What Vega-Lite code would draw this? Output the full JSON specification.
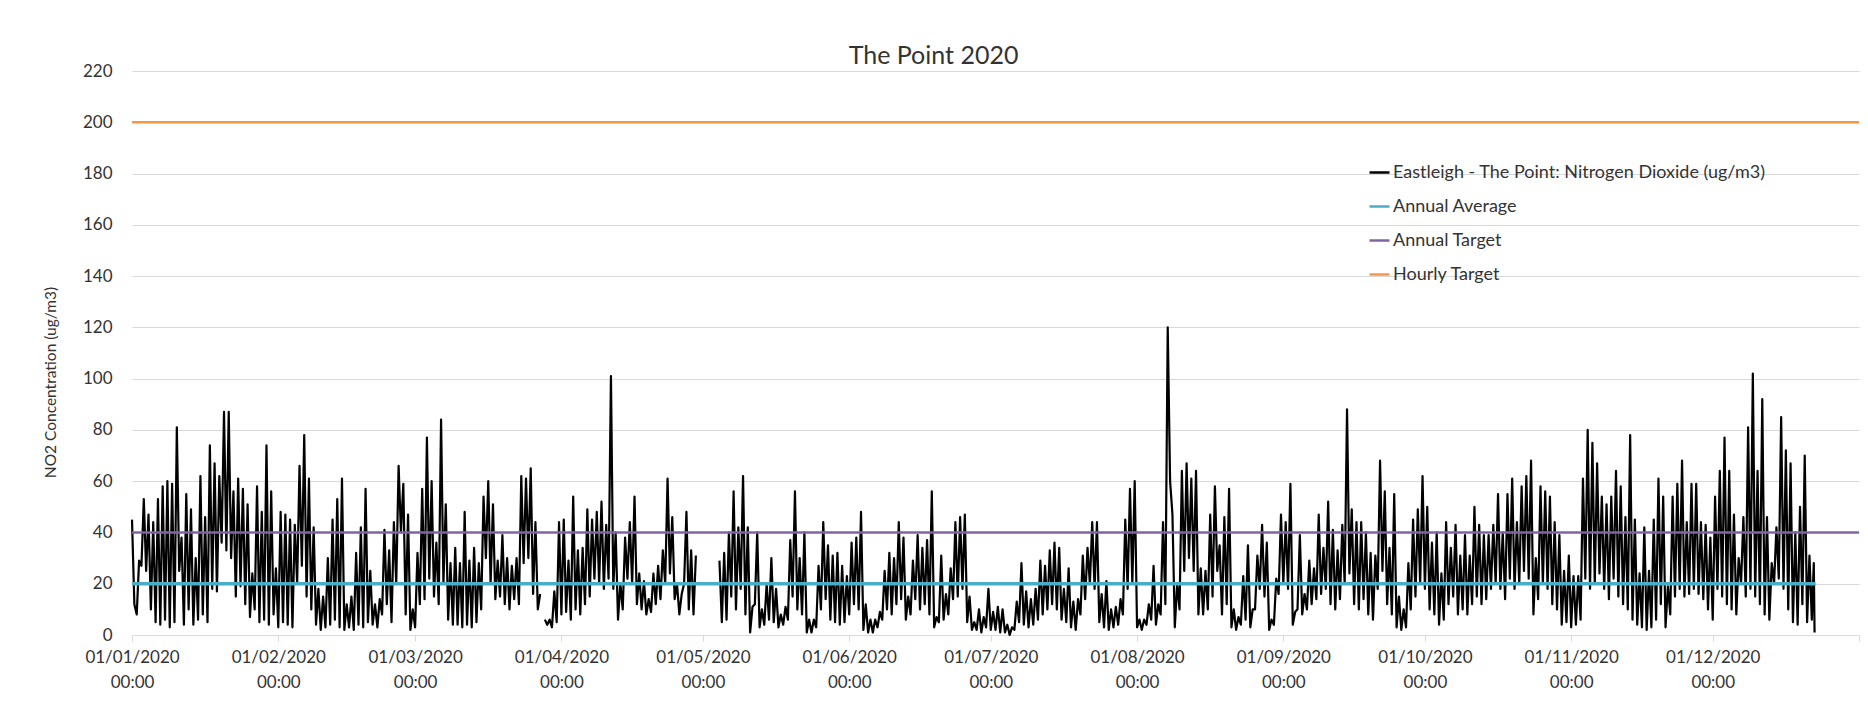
{
"$schema": "https://vega.github.io/schema/vega-lite/v6.json",
"width": 1727, "height": 564,
"autosize": {"type": "none"},
"padding": {"left": 132, "top": 71, "right": 9, "bottom": 92},
"background": "white",
"config": {"font": "Lato", "view": {"stroke": null}},
"title": {"text": "The Point 2020", "fontSize": 25, "fontWeight": "normal", "color": "#333333", "dx": -62, "offset": -7, "anchor": "middle"},
"datasets": {
"no2": [
{"t":"2020-01-01T00:00","v":45},{"t":"2020-01-01T12:00","v":12},
{"t":"2020-01-02T00:00","v":8},{"t":"2020-01-02T12:00","v":29},
{"t":"2020-01-03T00:00","v":27},{"t":"2020-01-03T12:00","v":53},
{"t":"2020-01-04T00:00","v":25},{"t":"2020-01-04T12:00","v":47},
{"t":"2020-01-05T00:00","v":10},{"t":"2020-01-05T12:00","v":44},
{"t":"2020-01-06T00:00","v":5},{"t":"2020-01-06T12:00","v":53},
{"t":"2020-01-07T00:00","v":4},{"t":"2020-01-07T12:00","v":58},
{"t":"2020-01-08T00:00","v":6},{"t":"2020-01-08T12:00","v":60},
{"t":"2020-01-09T00:00","v":3},{"t":"2020-01-09T12:00","v":59},
{"t":"2020-01-10T00:00","v":5},{"t":"2020-01-10T12:00","v":81},
{"t":"2020-01-11T00:00","v":25},{"t":"2020-01-11T12:00","v":38},
{"t":"2020-01-12T00:00","v":4},{"t":"2020-01-12T12:00","v":55},
{"t":"2020-01-13T00:00","v":10},{"t":"2020-01-13T12:00","v":49},
{"t":"2020-01-14T00:00","v":4},{"t":"2020-01-14T12:00","v":30},
{"t":"2020-01-15T00:00","v":6},{"t":"2020-01-15T12:00","v":62},
{"t":"2020-01-16T00:00","v":8},{"t":"2020-01-16T12:00","v":46},
{"t":"2020-01-17T00:00","v":5},{"t":"2020-01-17T12:00","v":74},
{"t":"2020-01-18T00:00","v":18},{"t":"2020-01-18T12:00","v":67},
{"t":"2020-01-19T00:00","v":17},{"t":"2020-01-19T12:00","v":62},
{"t":"2020-01-20T00:00","v":36},{"t":"2020-01-20T12:00","v":87},
{"t":"2020-01-21T00:00","v":33},{"t":"2020-01-21T12:00","v":87},
{"t":"2020-01-22T00:00","v":30},{"t":"2020-01-22T12:00","v":56},
{"t":"2020-01-23T00:00","v":15},{"t":"2020-01-23T12:00","v":61},
{"t":"2020-01-24T00:00","v":19},{"t":"2020-01-24T12:00","v":57},
{"t":"2020-01-25T00:00","v":12},{"t":"2020-01-25T12:00","v":51},
{"t":"2020-01-26T00:00","v":7},{"t":"2020-01-26T12:00","v":24},
{"t":"2020-01-27T00:00","v":10},{"t":"2020-01-27T12:00","v":58},
{"t":"2020-01-28T00:00","v":5},{"t":"2020-01-28T12:00","v":48},
{"t":"2020-01-29T00:00","v":6},{"t":"2020-01-29T12:00","v":74},
{"t":"2020-01-30T00:00","v":4},{"t":"2020-01-30T12:00","v":56},
{"t":"2020-01-31T00:00","v":8},{"t":"2020-01-31T12:00","v":26},
{"t":"2020-02-01T00:00","v":3},{"t":"2020-02-01T12:00","v":48},
{"t":"2020-02-02T00:00","v":5},{"t":"2020-02-02T12:00","v":47},
{"t":"2020-02-03T00:00","v":4},{"t":"2020-02-03T12:00","v":45},
{"t":"2020-02-04T00:00","v":3},{"t":"2020-02-04T12:00","v":43},
{"t":"2020-02-05T00:00","v":20},{"t":"2020-02-05T12:00","v":66},
{"t":"2020-02-06T00:00","v":27},{"t":"2020-02-06T12:00","v":78},
{"t":"2020-02-07T00:00","v":15},{"t":"2020-02-07T12:00","v":61},
{"t":"2020-02-08T00:00","v":10},{"t":"2020-02-08T12:00","v":42},
{"t":"2020-02-09T00:00","v":4},{"t":"2020-02-09T12:00","v":18},
{"t":"2020-02-10T00:00","v":2},{"t":"2020-02-10T12:00","v":15},
{"t":"2020-02-11T00:00","v":3},{"t":"2020-02-11T12:00","v":30},
{"t":"2020-02-12T00:00","v":4},{"t":"2020-02-12T12:00","v":45},
{"t":"2020-02-13T00:00","v":6},{"t":"2020-02-13T12:00","v":53},
{"t":"2020-02-14T00:00","v":3},{"t":"2020-02-14T12:00","v":61},
{"t":"2020-02-15T00:00","v":2},{"t":"2020-02-15T12:00","v":12},
{"t":"2020-02-16T00:00","v":3},{"t":"2020-02-16T12:00","v":15},
{"t":"2020-02-17T00:00","v":2},{"t":"2020-02-17T12:00","v":32},
{"t":"2020-02-18T00:00","v":4},{"t":"2020-02-18T12:00","v":42},
{"t":"2020-02-19T00:00","v":3},{"t":"2020-02-19T12:00","v":57},
{"t":"2020-02-20T00:00","v":5},{"t":"2020-02-20T12:00","v":25},
{"t":"2020-02-21T00:00","v":4},{"t":"2020-02-21T12:00","v":12},
{"t":"2020-02-22T00:00","v":3},{"t":"2020-02-22T12:00","v":14},
{"t":"2020-02-23T00:00","v":8},{"t":"2020-02-23T12:00","v":41},
{"t":"2020-02-24T00:00","v":12},{"t":"2020-02-24T12:00","v":33},
{"t":"2020-02-25T00:00","v":5},{"t":"2020-02-25T12:00","v":44},
{"t":"2020-02-26T00:00","v":20},{"t":"2020-02-26T12:00","v":66},
{"t":"2020-02-27T00:00","v":40},{"t":"2020-02-27T12:00","v":59},
{"t":"2020-02-28T00:00","v":8},{"t":"2020-02-28T12:00","v":47},
{"t":"2020-02-29T00:00","v":2},{"t":"2020-02-29T12:00","v":10},
{"t":"2020-03-01T00:00","v":3},{"t":"2020-03-01T12:00","v":32},
{"t":"2020-03-02T00:00","v":12},{"t":"2020-03-02T12:00","v":57},
{"t":"2020-03-03T00:00","v":14},{"t":"2020-03-03T12:00","v":77},
{"t":"2020-03-04T00:00","v":22},{"t":"2020-03-04T12:00","v":60},
{"t":"2020-03-05T00:00","v":15},{"t":"2020-03-05T12:00","v":36},
{"t":"2020-03-06T00:00","v":12},{"t":"2020-03-06T12:00","v":84},
{"t":"2020-03-07T00:00","v":20},{"t":"2020-03-07T12:00","v":51},
{"t":"2020-03-08T00:00","v":6},{"t":"2020-03-08T12:00","v":28},
{"t":"2020-03-09T00:00","v":4},{"t":"2020-03-09T12:00","v":34},
{"t":"2020-03-10T00:00","v":4},{"t":"2020-03-10T12:00","v":28},
{"t":"2020-03-11T00:00","v":3},{"t":"2020-03-11T12:00","v":48},
{"t":"2020-03-12T00:00","v":4},{"t":"2020-03-12T12:00","v":29},
{"t":"2020-03-13T00:00","v":3},{"t":"2020-03-13T12:00","v":34},
{"t":"2020-03-14T00:00","v":5},{"t":"2020-03-14T12:00","v":28},
{"t":"2020-03-15T00:00","v":10},{"t":"2020-03-15T12:00","v":54},
{"t":"2020-03-16T00:00","v":30},{"t":"2020-03-16T12:00","v":60},
{"t":"2020-03-17T00:00","v":20},{"t":"2020-03-17T12:00","v":51},
{"t":"2020-03-18T00:00","v":14},{"t":"2020-03-18T12:00","v":29},
{"t":"2020-03-19T00:00","v":15},{"t":"2020-03-19T12:00","v":39},
{"t":"2020-03-20T00:00","v":12},{"t":"2020-03-20T12:00","v":30},
{"t":"2020-03-21T00:00","v":10},{"t":"2020-03-21T12:00","v":27},
{"t":"2020-03-22T00:00","v":14},{"t":"2020-03-22T12:00","v":30},
{"t":"2020-03-23T00:00","v":12},{"t":"2020-03-23T12:00","v":62},
{"t":"2020-03-24T00:00","v":28},{"t":"2020-03-24T12:00","v":61},
{"t":"2020-03-25T00:00","v":30},{"t":"2020-03-25T12:00","v":65},
{"t":"2020-03-26T00:00","v":16},{"t":"2020-03-26T12:00","v":44},
{"t":"2020-03-27T00:00","v":10},{"t":"2020-03-27T12:00","v":16},
{"t":"2020-03-28T00:00","v":null},{"t":"2020-03-28T12:00","v":6},
{"t":"2020-03-29T00:00","v":4},{"t":"2020-03-29T12:00","v":6},
{"t":"2020-03-30T00:00","v":3},{"t":"2020-03-30T12:00","v":17},
{"t":"2020-03-31T00:00","v":5},{"t":"2020-03-31T12:00","v":44},
{"t":"2020-04-01T00:00","v":8},{"t":"2020-04-01T12:00","v":45},
{"t":"2020-04-02T00:00","v":9},{"t":"2020-04-02T12:00","v":29},
{"t":"2020-04-03T00:00","v":6},{"t":"2020-04-03T12:00","v":54},
{"t":"2020-04-04T00:00","v":10},{"t":"2020-04-04T12:00","v":33},
{"t":"2020-04-05T00:00","v":8},{"t":"2020-04-05T12:00","v":34},
{"t":"2020-04-06T00:00","v":12},{"t":"2020-04-06T12:00","v":49},
{"t":"2020-04-07T00:00","v":15},{"t":"2020-04-07T12:00","v":45},
{"t":"2020-04-08T00:00","v":22},{"t":"2020-04-08T12:00","v":48},
{"t":"2020-04-09T00:00","v":20},{"t":"2020-04-09T12:00","v":52},
{"t":"2020-04-10T00:00","v":18},{"t":"2020-04-10T12:00","v":43},
{"t":"2020-04-11T00:00","v":22},{"t":"2020-04-11T12:00","v":101},
{"t":"2020-04-12T00:00","v":18},{"t":"2020-04-12T12:00","v":40},
{"t":"2020-04-13T00:00","v":6},{"t":"2020-04-13T12:00","v":20},
{"t":"2020-04-14T00:00","v":10},{"t":"2020-04-14T12:00","v":38},
{"t":"2020-04-15T00:00","v":22},{"t":"2020-04-15T12:00","v":44},
{"t":"2020-04-16T00:00","v":20},{"t":"2020-04-16T12:00","v":54},
{"t":"2020-04-17T00:00","v":12},{"t":"2020-04-17T12:00","v":24},
{"t":"2020-04-18T00:00","v":10},{"t":"2020-04-18T12:00","v":21},
{"t":"2020-04-19T00:00","v":8},{"t":"2020-04-19T12:00","v":14},
{"t":"2020-04-20T00:00","v":9},{"t":"2020-04-20T12:00","v":24},
{"t":"2020-04-21T00:00","v":12},{"t":"2020-04-21T12:00","v":27},
{"t":"2020-04-22T00:00","v":14},{"t":"2020-04-22T12:00","v":33},
{"t":"2020-04-23T00:00","v":20},{"t":"2020-04-23T12:00","v":61},
{"t":"2020-04-24T00:00","v":24},{"t":"2020-04-24T12:00","v":46},
{"t":"2020-04-25T00:00","v":14},{"t":"2020-04-25T12:00","v":20},
{"t":"2020-04-26T00:00","v":8},{"t":"2020-04-26T12:00","v":16},
{"t":"2020-04-27T00:00","v":20},{"t":"2020-04-27T12:00","v":48},
{"t":"2020-04-28T00:00","v":10},{"t":"2020-04-28T12:00","v":33},
{"t":"2020-04-29T00:00","v":8},{"t":"2020-04-29T12:00","v":31},
{"t":"2020-04-30T00:00","v":null},{"t":"2020-04-30T12:00","v":null},
{"t":"2020-05-01T00:00","v":null},{"t":"2020-05-01T12:00","v":null},
{"t":"2020-05-02T00:00","v":null},{"t":"2020-05-02T12:00","v":null},
{"t":"2020-05-03T00:00","v":null},{"t":"2020-05-03T12:00","v":null},
{"t":"2020-05-04T00:00","v":null},{"t":"2020-05-04T12:00","v":29},
{"t":"2020-05-05T00:00","v":5},{"t":"2020-05-05T12:00","v":32},
{"t":"2020-05-06T00:00","v":6},{"t":"2020-05-06T12:00","v":40},
{"t":"2020-05-07T00:00","v":15},{"t":"2020-05-07T12:00","v":56},
{"t":"2020-05-08T00:00","v":10},{"t":"2020-05-08T12:00","v":42},
{"t":"2020-05-09T00:00","v":18},{"t":"2020-05-09T12:00","v":62},
{"t":"2020-05-10T00:00","v":8},{"t":"2020-05-10T12:00","v":42},
{"t":"2020-05-11T00:00","v":1},{"t":"2020-05-11T12:00","v":11},
{"t":"2020-05-12T00:00","v":12},{"t":"2020-05-12T12:00","v":40},
{"t":"2020-05-13T00:00","v":3},{"t":"2020-05-13T12:00","v":10},
{"t":"2020-05-14T00:00","v":4},{"t":"2020-05-14T12:00","v":20},
{"t":"2020-05-15T00:00","v":6},{"t":"2020-05-15T12:00","v":30},
{"t":"2020-05-16T00:00","v":5},{"t":"2020-05-16T12:00","v":18},
{"t":"2020-05-17T00:00","v":3},{"t":"2020-05-17T12:00","v":8},
{"t":"2020-05-18T00:00","v":4},{"t":"2020-05-18T12:00","v":11},
{"t":"2020-05-19T00:00","v":6},{"t":"2020-05-19T12:00","v":37},
{"t":"2020-05-20T00:00","v":15},{"t":"2020-05-20T12:00","v":56},
{"t":"2020-05-21T00:00","v":10},{"t":"2020-05-21T12:00","v":30},
{"t":"2020-05-22T00:00","v":8},{"t":"2020-05-22T12:00","v":40},
{"t":"2020-05-23T00:00","v":1},{"t":"2020-05-23T12:00","v":6},
{"t":"2020-05-24T00:00","v":1},{"t":"2020-05-24T12:00","v":6},
{"t":"2020-05-25T00:00","v":3},{"t":"2020-05-25T12:00","v":27},
{"t":"2020-05-26T00:00","v":10},{"t":"2020-05-26T12:00","v":44},
{"t":"2020-05-27T00:00","v":14},{"t":"2020-05-27T12:00","v":35},
{"t":"2020-05-28T00:00","v":6},{"t":"2020-05-28T12:00","v":31},
{"t":"2020-05-29T00:00","v":5},{"t":"2020-05-29T12:00","v":32},
{"t":"2020-05-30T00:00","v":4},{"t":"2020-05-30T12:00","v":27},
{"t":"2020-05-31T00:00","v":5},{"t":"2020-05-31T12:00","v":23},
{"t":"2020-06-01T00:00","v":8},{"t":"2020-06-01T12:00","v":36},
{"t":"2020-06-02T00:00","v":12},{"t":"2020-06-02T12:00","v":38},
{"t":"2020-06-03T00:00","v":10},{"t":"2020-06-03T12:00","v":48},
{"t":"2020-06-04T00:00","v":2},{"t":"2020-06-04T12:00","v":12},
{"t":"2020-06-05T00:00","v":1},{"t":"2020-06-05T12:00","v":6},
{"t":"2020-06-06T00:00","v":1},{"t":"2020-06-06T12:00","v":6},
{"t":"2020-06-07T00:00","v":3},{"t":"2020-06-07T12:00","v":9},
{"t":"2020-06-08T00:00","v":6},{"t":"2020-06-08T12:00","v":25},
{"t":"2020-06-09T00:00","v":10},{"t":"2020-06-09T12:00","v":32},
{"t":"2020-06-10T00:00","v":8},{"t":"2020-06-10T12:00","v":30},
{"t":"2020-06-11T00:00","v":12},{"t":"2020-06-11T12:00","v":44},
{"t":"2020-06-12T00:00","v":14},{"t":"2020-06-12T12:00","v":38},
{"t":"2020-06-13T00:00","v":6},{"t":"2020-06-13T12:00","v":15},
{"t":"2020-06-14T00:00","v":8},{"t":"2020-06-14T12:00","v":29},
{"t":"2020-06-15T00:00","v":14},{"t":"2020-06-15T12:00","v":39},
{"t":"2020-06-16T00:00","v":10},{"t":"2020-06-16T12:00","v":34},
{"t":"2020-06-17T00:00","v":12},{"t":"2020-06-17T12:00","v":37},
{"t":"2020-06-18T00:00","v":8},{"t":"2020-06-18T12:00","v":56},
{"t":"2020-06-19T00:00","v":3},{"t":"2020-06-19T12:00","v":7},
{"t":"2020-06-20T00:00","v":5},{"t":"2020-06-20T12:00","v":31},
{"t":"2020-06-21T00:00","v":6},{"t":"2020-06-21T12:00","v":16},
{"t":"2020-06-22T00:00","v":8},{"t":"2020-06-22T12:00","v":26},
{"t":"2020-06-23T00:00","v":14},{"t":"2020-06-23T12:00","v":44},
{"t":"2020-06-24T00:00","v":15},{"t":"2020-06-24T12:00","v":46},
{"t":"2020-06-25T00:00","v":18},{"t":"2020-06-25T12:00","v":47},
{"t":"2020-06-26T00:00","v":5},{"t":"2020-06-26T12:00","v":15},
{"t":"2020-06-27T00:00","v":2},{"t":"2020-06-27T12:00","v":5},
{"t":"2020-06-28T00:00","v":2},{"t":"2020-06-28T12:00","v":10},
{"t":"2020-06-29T00:00","v":1},{"t":"2020-06-29T12:00","v":7},
{"t":"2020-06-30T00:00","v":3},{"t":"2020-06-30T12:00","v":18},
{"t":"2020-07-01T00:00","v":2},{"t":"2020-07-01T12:00","v":9},
{"t":"2020-07-02T00:00","v":2},{"t":"2020-07-02T12:00","v":11},
{"t":"2020-07-03T00:00","v":1},{"t":"2020-07-03T12:00","v":10},
{"t":"2020-07-04T00:00","v":1},{"t":"2020-07-04T12:00","v":4},
{"t":"2020-07-05T00:00","v":0},{"t":"2020-07-05T12:00","v":3},
{"t":"2020-07-06T00:00","v":2},{"t":"2020-07-06T12:00","v":13},
{"t":"2020-07-07T00:00","v":5},{"t":"2020-07-07T12:00","v":28},
{"t":"2020-07-08T00:00","v":4},{"t":"2020-07-08T12:00","v":17},
{"t":"2020-07-09T00:00","v":3},{"t":"2020-07-09T12:00","v":14},
{"t":"2020-07-10T00:00","v":4},{"t":"2020-07-10T12:00","v":18},
{"t":"2020-07-11T00:00","v":6},{"t":"2020-07-11T12:00","v":29},
{"t":"2020-07-12T00:00","v":8},{"t":"2020-07-12T12:00","v":27},
{"t":"2020-07-13T00:00","v":10},{"t":"2020-07-13T12:00","v":33},
{"t":"2020-07-14T00:00","v":12},{"t":"2020-07-14T12:00","v":36},
{"t":"2020-07-15T00:00","v":10},{"t":"2020-07-15T12:00","v":34},
{"t":"2020-07-16T00:00","v":6},{"t":"2020-07-16T12:00","v":18},
{"t":"2020-07-17T00:00","v":5},{"t":"2020-07-17T12:00","v":26},
{"t":"2020-07-18T00:00","v":3},{"t":"2020-07-18T12:00","v":13},
{"t":"2020-07-19T00:00","v":2},{"t":"2020-07-19T12:00","v":14},
{"t":"2020-07-20T00:00","v":8},{"t":"2020-07-20T12:00","v":31},
{"t":"2020-07-21T00:00","v":14},{"t":"2020-07-21T12:00","v":34},
{"t":"2020-07-22T00:00","v":20},{"t":"2020-07-22T12:00","v":44},
{"t":"2020-07-23T00:00","v":18},{"t":"2020-07-23T12:00","v":44},
{"t":"2020-07-24T00:00","v":5},{"t":"2020-07-24T12:00","v":16},
{"t":"2020-07-25T00:00","v":3},{"t":"2020-07-25T12:00","v":21},
{"t":"2020-07-26T00:00","v":2},{"t":"2020-07-26T12:00","v":10},
{"t":"2020-07-27T00:00","v":3},{"t":"2020-07-27T12:00","v":11},
{"t":"2020-07-28T00:00","v":4},{"t":"2020-07-28T12:00","v":14},
{"t":"2020-07-29T00:00","v":8},{"t":"2020-07-29T12:00","v":45},
{"t":"2020-07-30T00:00","v":18},{"t":"2020-07-30T12:00","v":57},
{"t":"2020-07-31T00:00","v":20},{"t":"2020-07-31T12:00","v":60},
{"t":"2020-08-01T00:00","v":3},{"t":"2020-08-01T12:00","v":6},
{"t":"2020-08-02T00:00","v":2},{"t":"2020-08-02T12:00","v":6},
{"t":"2020-08-03T00:00","v":4},{"t":"2020-08-03T12:00","v":12},
{"t":"2020-08-04T00:00","v":6},{"t":"2020-08-04T12:00","v":27},
{"t":"2020-08-05T00:00","v":4},{"t":"2020-08-05T12:00","v":12},
{"t":"2020-08-06T00:00","v":8},{"t":"2020-08-06T12:00","v":44},
{"t":"2020-08-07T00:00","v":12},{"t":"2020-08-07T12:00","v":120},
{"t":"2020-08-08T00:00","v":60},{"t":"2020-08-08T12:00","v":47},
{"t":"2020-08-09T00:00","v":3},{"t":"2020-08-09T12:00","v":20},
{"t":"2020-08-10T00:00","v":10},{"t":"2020-08-10T12:00","v":64},
{"t":"2020-08-11T00:00","v":25},{"t":"2020-08-11T12:00","v":67},
{"t":"2020-08-12T00:00","v":30},{"t":"2020-08-12T12:00","v":61},
{"t":"2020-08-13T00:00","v":25},{"t":"2020-08-13T12:00","v":64},
{"t":"2020-08-14T00:00","v":8},{"t":"2020-08-14T12:00","v":26},
{"t":"2020-08-15T00:00","v":8},{"t":"2020-08-15T12:00","v":25},
{"t":"2020-08-16T00:00","v":10},{"t":"2020-08-16T12:00","v":47},
{"t":"2020-08-17T00:00","v":15},{"t":"2020-08-17T12:00","v":58},
{"t":"2020-08-18T00:00","v":25},{"t":"2020-08-18T12:00","v":35},
{"t":"2020-08-19T00:00","v":8},{"t":"2020-08-19T12:00","v":46},
{"t":"2020-08-20T00:00","v":12},{"t":"2020-08-20T12:00","v":57},
{"t":"2020-08-21T00:00","v":3},{"t":"2020-08-21T12:00","v":10},
{"t":"2020-08-22T00:00","v":2},{"t":"2020-08-22T12:00","v":7},
{"t":"2020-08-23T00:00","v":4},{"t":"2020-08-23T12:00","v":23},
{"t":"2020-08-24T00:00","v":6},{"t":"2020-08-24T12:00","v":35},
{"t":"2020-08-25T00:00","v":3},{"t":"2020-08-25T12:00","v":10},
{"t":"2020-08-26T00:00","v":10},{"t":"2020-08-26T12:00","v":31},
{"t":"2020-08-27T00:00","v":18},{"t":"2020-08-27T12:00","v":43},
{"t":"2020-08-28T00:00","v":15},{"t":"2020-08-28T12:00","v":36},
{"t":"2020-08-29T00:00","v":2},{"t":"2020-08-29T12:00","v":6},
{"t":"2020-08-30T00:00","v":4},{"t":"2020-08-30T12:00","v":22},
{"t":"2020-08-31T00:00","v":16},{"t":"2020-08-31T12:00","v":47},
{"t":"2020-09-01T00:00","v":20},{"t":"2020-09-01T12:00","v":44},
{"t":"2020-09-02T00:00","v":18},{"t":"2020-09-02T12:00","v":59},
{"t":"2020-09-03T00:00","v":4},{"t":"2020-09-03T12:00","v":9},
{"t":"2020-09-04T00:00","v":10},{"t":"2020-09-04T12:00","v":39},
{"t":"2020-09-05T00:00","v":8},{"t":"2020-09-05T12:00","v":16},
{"t":"2020-09-06T00:00","v":10},{"t":"2020-09-06T12:00","v":29},
{"t":"2020-09-07T00:00","v":12},{"t":"2020-09-07T12:00","v":26},
{"t":"2020-09-08T00:00","v":14},{"t":"2020-09-08T12:00","v":47},
{"t":"2020-09-09T00:00","v":16},{"t":"2020-09-09T12:00","v":34},
{"t":"2020-09-10T00:00","v":18},{"t":"2020-09-10T12:00","v":52},
{"t":"2020-09-11T00:00","v":12},{"t":"2020-09-11T12:00","v":41},
{"t":"2020-09-12T00:00","v":10},{"t":"2020-09-12T12:00","v":33},
{"t":"2020-09-13T00:00","v":14},{"t":"2020-09-13T12:00","v":43},
{"t":"2020-09-14T00:00","v":20},{"t":"2020-09-14T12:00","v":88},
{"t":"2020-09-15T00:00","v":24},{"t":"2020-09-15T12:00","v":49},
{"t":"2020-09-16T00:00","v":12},{"t":"2020-09-16T12:00","v":44},
{"t":"2020-09-17T00:00","v":10},{"t":"2020-09-17T12:00","v":44},
{"t":"2020-09-18T00:00","v":14},{"t":"2020-09-18T12:00","v":40},
{"t":"2020-09-19T00:00","v":8},{"t":"2020-09-19T12:00","v":32},
{"t":"2020-09-20T00:00","v":6},{"t":"2020-09-20T12:00","v":31},
{"t":"2020-09-21T00:00","v":18},{"t":"2020-09-21T12:00","v":68},
{"t":"2020-09-22T00:00","v":25},{"t":"2020-09-22T12:00","v":56},
{"t":"2020-09-23T00:00","v":12},{"t":"2020-09-23T12:00","v":34},
{"t":"2020-09-24T00:00","v":8},{"t":"2020-09-24T12:00","v":55},
{"t":"2020-09-25T00:00","v":3},{"t":"2020-09-25T12:00","v":15},
{"t":"2020-09-26T00:00","v":2},{"t":"2020-09-26T12:00","v":10},
{"t":"2020-09-27T00:00","v":3},{"t":"2020-09-27T12:00","v":28},
{"t":"2020-09-28T00:00","v":10},{"t":"2020-09-28T12:00","v":45},
{"t":"2020-09-29T00:00","v":15},{"t":"2020-09-29T12:00","v":49},
{"t":"2020-09-30T00:00","v":20},{"t":"2020-09-30T12:00","v":62},
{"t":"2020-10-01T00:00","v":18},{"t":"2020-10-01T12:00","v":50},
{"t":"2020-10-02T00:00","v":10},{"t":"2020-10-02T12:00","v":36},
{"t":"2020-10-03T00:00","v":8},{"t":"2020-10-03T12:00","v":40},
{"t":"2020-10-04T00:00","v":4},{"t":"2020-10-04T12:00","v":24},
{"t":"2020-10-05T00:00","v":6},{"t":"2020-10-05T12:00","v":44},
{"t":"2020-10-06T00:00","v":12},{"t":"2020-10-06T12:00","v":34},
{"t":"2020-10-07T00:00","v":15},{"t":"2020-10-07T12:00","v":43},
{"t":"2020-10-08T00:00","v":8},{"t":"2020-10-08T12:00","v":31},
{"t":"2020-10-09T00:00","v":10},{"t":"2020-10-09T12:00","v":39},
{"t":"2020-10-10T00:00","v":8},{"t":"2020-10-10T12:00","v":31},
{"t":"2020-10-11T00:00","v":12},{"t":"2020-10-11T12:00","v":50},
{"t":"2020-10-12T00:00","v":15},{"t":"2020-10-12T12:00","v":43},
{"t":"2020-10-13T00:00","v":12},{"t":"2020-10-13T12:00","v":39},
{"t":"2020-10-14T00:00","v":14},{"t":"2020-10-14T12:00","v":39},
{"t":"2020-10-15T00:00","v":18},{"t":"2020-10-15T12:00","v":43},
{"t":"2020-10-16T00:00","v":20},{"t":"2020-10-16T12:00","v":55},
{"t":"2020-10-17T00:00","v":18},{"t":"2020-10-17T12:00","v":40},
{"t":"2020-10-18T00:00","v":14},{"t":"2020-10-18T12:00","v":55},
{"t":"2020-10-19T00:00","v":22},{"t":"2020-10-19T12:00","v":61},
{"t":"2020-10-20T00:00","v":18},{"t":"2020-10-20T12:00","v":44},
{"t":"2020-10-21T00:00","v":20},{"t":"2020-10-21T12:00","v":58},
{"t":"2020-10-22T00:00","v":25},{"t":"2020-10-22T12:00","v":62},
{"t":"2020-10-23T00:00","v":22},{"t":"2020-10-23T12:00","v":68},
{"t":"2020-10-24T00:00","v":8},{"t":"2020-10-24T12:00","v":30},
{"t":"2020-10-25T00:00","v":14},{"t":"2020-10-25T12:00","v":58},
{"t":"2020-10-26T00:00","v":20},{"t":"2020-10-26T12:00","v":56},
{"t":"2020-10-27T00:00","v":18},{"t":"2020-10-27T12:00","v":54},
{"t":"2020-10-28T00:00","v":12},{"t":"2020-10-28T12:00","v":44},
{"t":"2020-10-29T00:00","v":10},{"t":"2020-10-29T12:00","v":39},
{"t":"2020-10-30T00:00","v":4},{"t":"2020-10-30T12:00","v":25},
{"t":"2020-10-31T00:00","v":5},{"t":"2020-10-31T12:00","v":31},
{"t":"2020-11-01T00:00","v":3},{"t":"2020-11-01T12:00","v":23},
{"t":"2020-11-02T00:00","v":4},{"t":"2020-11-02T12:00","v":23},
{"t":"2020-11-03T00:00","v":6},{"t":"2020-11-03T12:00","v":61},
{"t":"2020-11-04T00:00","v":22},{"t":"2020-11-04T12:00","v":80},
{"t":"2020-11-05T00:00","v":18},{"t":"2020-11-05T12:00","v":75},
{"t":"2020-11-06T00:00","v":20},{"t":"2020-11-06T12:00","v":67},
{"t":"2020-11-07T00:00","v":24},{"t":"2020-11-07T12:00","v":54},
{"t":"2020-11-08T00:00","v":18},{"t":"2020-11-08T12:00","v":51},
{"t":"2020-11-09T00:00","v":14},{"t":"2020-11-09T12:00","v":54},
{"t":"2020-11-10T00:00","v":22},{"t":"2020-11-10T12:00","v":64},
{"t":"2020-11-11T00:00","v":15},{"t":"2020-11-11T12:00","v":58},
{"t":"2020-11-12T00:00","v":12},{"t":"2020-11-12T12:00","v":46},
{"t":"2020-11-13T00:00","v":10},{"t":"2020-11-13T12:00","v":78},
{"t":"2020-11-14T00:00","v":6},{"t":"2020-11-14T12:00","v":45},
{"t":"2020-11-15T00:00","v":4},{"t":"2020-11-15T12:00","v":24},
{"t":"2020-11-16T00:00","v":3},{"t":"2020-11-16T12:00","v":42},
{"t":"2020-11-17T00:00","v":2},{"t":"2020-11-17T12:00","v":25},
{"t":"2020-11-18T00:00","v":3},{"t":"2020-11-18T12:00","v":45},
{"t":"2020-11-19T00:00","v":6},{"t":"2020-11-19T12:00","v":61},
{"t":"2020-11-20T00:00","v":12},{"t":"2020-11-20T12:00","v":54},
{"t":"2020-11-21T00:00","v":3},{"t":"2020-11-21T12:00","v":19},
{"t":"2020-11-22T00:00","v":8},{"t":"2020-11-22T12:00","v":54},
{"t":"2020-11-23T00:00","v":15},{"t":"2020-11-23T12:00","v":59},
{"t":"2020-11-24T00:00","v":18},{"t":"2020-11-24T12:00","v":68},
{"t":"2020-11-25T00:00","v":15},{"t":"2020-11-25T12:00","v":44},
{"t":"2020-11-26T00:00","v":16},{"t":"2020-11-26T12:00","v":59},
{"t":"2020-11-27T00:00","v":18},{"t":"2020-11-27T12:00","v":59},
{"t":"2020-11-28T00:00","v":16},{"t":"2020-11-28T12:00","v":44},
{"t":"2020-11-29T00:00","v":14},{"t":"2020-11-29T12:00","v":43},
{"t":"2020-11-30T00:00","v":10},{"t":"2020-11-30T12:00","v":38},
{"t":"2020-12-01T00:00","v":6},{"t":"2020-12-01T12:00","v":54},
{"t":"2020-12-02T00:00","v":18},{"t":"2020-12-02T12:00","v":64},
{"t":"2020-12-03T00:00","v":15},{"t":"2020-12-03T12:00","v":77},
{"t":"2020-12-04T00:00","v":12},{"t":"2020-12-04T12:00","v":64},
{"t":"2020-12-05T00:00","v":10},{"t":"2020-12-05T12:00","v":47},
{"t":"2020-12-06T00:00","v":8},{"t":"2020-12-06T12:00","v":30},
{"t":"2020-12-07T00:00","v":20},{"t":"2020-12-07T12:00","v":46},
{"t":"2020-12-08T00:00","v":15},{"t":"2020-12-08T12:00","v":81},
{"t":"2020-12-09T00:00","v":18},{"t":"2020-12-09T12:00","v":102},
{"t":"2020-12-10T00:00","v":15},{"t":"2020-12-10T12:00","v":64},
{"t":"2020-12-11T00:00","v":12},{"t":"2020-12-11T12:00","v":92},
{"t":"2020-12-12T00:00","v":8},{"t":"2020-12-12T12:00","v":46},
{"t":"2020-12-13T00:00","v":6},{"t":"2020-12-13T12:00","v":28},
{"t":"2020-12-14T00:00","v":20},{"t":"2020-12-14T12:00","v":42},
{"t":"2020-12-15T00:00","v":22},{"t":"2020-12-15T12:00","v":85},
{"t":"2020-12-16T00:00","v":18},{"t":"2020-12-16T12:00","v":72},
{"t":"2020-12-17T00:00","v":10},{"t":"2020-12-17T12:00","v":67},
{"t":"2020-12-18T00:00","v":5},{"t":"2020-12-18T12:00","v":40},
{"t":"2020-12-19T00:00","v":4},{"t":"2020-12-19T12:00","v":50},
{"t":"2020-12-20T00:00","v":12},{"t":"2020-12-20T12:00","v":70},
{"t":"2020-12-21T00:00","v":5},{"t":"2020-12-21T12:00","v":31},
{"t":"2020-12-22T00:00","v":6},{"t":"2020-12-22T10:00","v":28},
{"t":"2020-12-22T14:00","v":1}
],
"avg": [{"t":"2020-01-01T00:00","v":20},{"t":"2020-12-22T19:00","v":20}],
"annual": [{"t":"2020-01-01T00:00","v":40},{"t":"2021-01-01T00:00","v":40}],
"hourly": [{"t":"2020-01-01T00:00","v":200},{"t":"2021-01-01T00:00","v":200}]
},
"layer": [
{
"data": {"name": "no2"},
"mark": {"type": "line", "strokeWidth": 2.2, "strokeJoin": "round", "invalid": "break-paths-filter-domains"},
"encoding": {
"x": {"field": "t", "type": "temporal",
 "scale": {"domain": [{"year": 2020, "month": 1, "date": 1}, {"year": 2021, "month": 1, "date": 1}]},
 "axis": {"title": null, "grid": false,
  "values": [{"year":2020,"month":1,"date":1},{"year":2020,"month":2,"date":1},{"year":2020,"month":3,"date":1},{"year":2020,"month":4,"date":1},{"year":2020,"month":5,"date":1},{"year":2020,"month":6,"date":1},{"year":2020,"month":7,"date":1},{"year":2020,"month":8,"date":1},{"year":2020,"month":9,"date":1},{"year":2020,"month":10,"date":1},{"year":2020,"month":11,"date":1},{"year":2020,"month":12,"date":1},{"year":2021,"month":1,"date":1}],
  "labelExpr": "year(datum.value) > 2020 ? '' : [timeFormat(datum.value, '%d/%m/%Y'), '00:00']",
  "labelFontSize": 17, "labelColor": "#333333", "labelLineHeight": 25, "labelPadding": 8,
  "labelFlush": false, "labelOverlap": false, "labelAlign": "center", "labelBaseline": "top",
  "domainColor": "#d9d9d9", "tickColor": "#d9d9d9", "tickSize": 6}},
"y": {"field": "v", "type": "quantitative",
 "scale": {"domain": [0, 220], "nice": false},
 "axis": {"title": "NO2 Concentration (ug/m3)", "values": [0,20,40,60,80,100,120,140,160,180,200,220],
  "grid": true, "gridColor": "#d9d9d9", "domain": false, "ticks": false,
  "labelFontSize": 17, "labelColor": "#333333", "labelPadding": 20,
  "titleFontSize": 15.5, "titleFontWeight": "normal", "titleColor": "#333333",
  "titleX": -82, "titleY": 311, "titleAlign": "center", "titleBaseline": "middle", "titleAngle": 270}},
"color": {"datum": "Eastleigh - The Point: Nitrogen Dioxide (ug/m3)", "type": "nominal",
 "scale": {"domain": ["Eastleigh - The Point: Nitrogen Dioxide (ug/m3)", "Annual Average", "Annual Target", "Hourly Target"], "range": ["#000000", "#4BACC6", "#8064A2", "#F79646"]},
 "legend": {"orient": "none", "legendX": 1236, "legendY": 90, "title": null, "labelFontSize": 18, "labelColor": "#333333", "symbolType": "stroke", "symbolSize": 400, "symbolStrokeWidth": 2.5, "rowPadding": 13, "labelOffset": 2, "labelLimit": 700}}
}
},
{
"data": {"name": "avg"},
"mark": {"type": "line", "strokeWidth": 3.5},
"encoding": {"x": {"field": "t", "type": "temporal"}, "y": {"field": "v", "type": "quantitative"}, "color": {"datum": "Annual Average", "type": "nominal"}}
},
{
"data": {"name": "annual"},
"mark": {"type": "line", "strokeWidth": 2.5},
"encoding": {"x": {"field": "t", "type": "temporal"}, "y": {"field": "v", "type": "quantitative"}, "color": {"datum": "Annual Target", "type": "nominal"}}
},
{
"data": {"name": "hourly"},
"mark": {"type": "line", "strokeWidth": 2.5},
"encoding": {"x": {"field": "t", "type": "temporal"}, "y": {"field": "v", "type": "quantitative"}, "color": {"datum": "Hourly Target", "type": "nominal"}}
}
]
}
